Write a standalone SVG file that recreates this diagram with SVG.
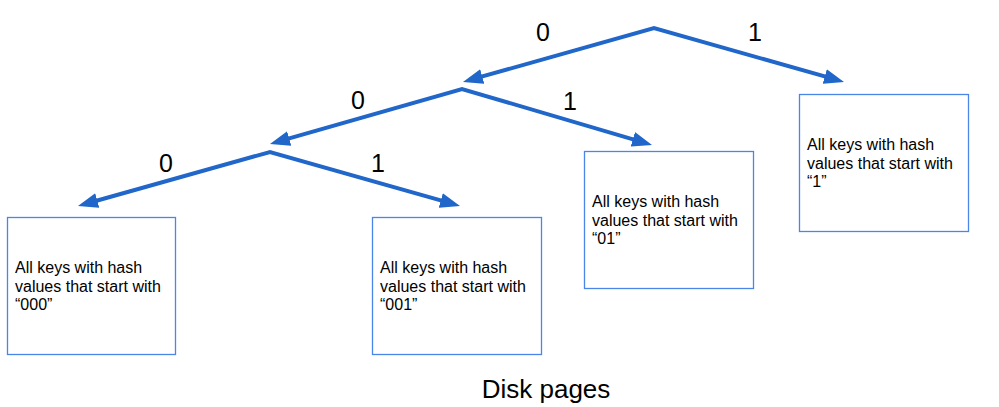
<svg xmlns="http://www.w3.org/2000/svg" width="999" height="407" viewBox="0 0 999 407">
<style>
.bg{fill:#ffffff}
.edge{fill:none;stroke:#2166c9;stroke-width:4;stroke-linejoin:miter;marker-start:url(#ah);marker-end:url(#ah)}
.box{fill:#ffffff;stroke:#4a86e8;stroke-width:1.3}
.t{font-family:"Liberation Sans",Arial,sans-serif;font-size:16px;fill:#000000}
.lbl{font-family:"Liberation Sans",Arial,sans-serif;font-size:25px;fill:#000000;text-anchor:middle}
.cap{font-family:"Liberation Sans",Arial,sans-serif;font-size:26px;fill:#000000;text-anchor:middle}
</style>
<defs>
<marker id="ah" markerUnits="userSpaceOnUse" viewBox="0 0 20 15" markerWidth="20" markerHeight="15" refX="10" refY="7.5" orient="auto-start-reverse">
<path d="M0,0 L20,7.5 L0,15 z" fill="#2166c9"/>
</marker>
</defs>
<rect class="bg" x="0" y="0" width="999" height="407"/>
<g id="connectors">
<path class="edge" d="M472.6,79.2 L654,28 L834.4,79.2"/>
<path class="edge" d="M279.6,141.2 L462,89 L642.4,142.1"/>
<path class="edge" d="M87.6,203.2 L270,152 L450.4,203.2"/>
</g>
<g id="labels">
<text class="lbl" x="543" y="41">0</text>
<text class="lbl" x="755" y="41">1</text>
<text class="lbl" x="358" y="109">0</text>
<text class="lbl" x="570" y="110">1</text>
<text class="lbl" x="166" y="172">0</text>
<text class="lbl" x="378" y="172">1</text>
</g>
<g id="page000">
<rect class="box" x="7.5" y="217.5" width="168" height="137"/>
<text class="t" x="15" y="273">All keys with hash</text>
<text class="t" x="15" y="291.5">values that start with</text>
<text class="t" x="15" y="310">“000”</text>
</g>
<g id="page001">
<rect class="box" x="372.5" y="217.5" width="169" height="137"/>
<text class="t" x="380" y="273">All keys with hash</text>
<text class="t" x="380" y="291.5">values that start with</text>
<text class="t" x="380" y="310">“001”</text>
</g>
<g id="page01">
<rect class="box" x="584.5" y="151.5" width="169" height="137"/>
<text class="t" x="592" y="207">All keys with hash</text>
<text class="t" x="592" y="225.5">values that start with</text>
<text class="t" x="592" y="244">“01”</text>
</g>
<g id="page1">
<rect class="box" x="799.5" y="94.5" width="169" height="137"/>
<text class="t" x="807" y="150">All keys with hash</text>
<text class="t" x="807" y="168.5">values that start with</text>
<text class="t" x="807" y="187">“1”</text>
</g>
<g id="caption">
<text class="cap" x="546" y="398">Disk pages</text>
</g>
</svg>
